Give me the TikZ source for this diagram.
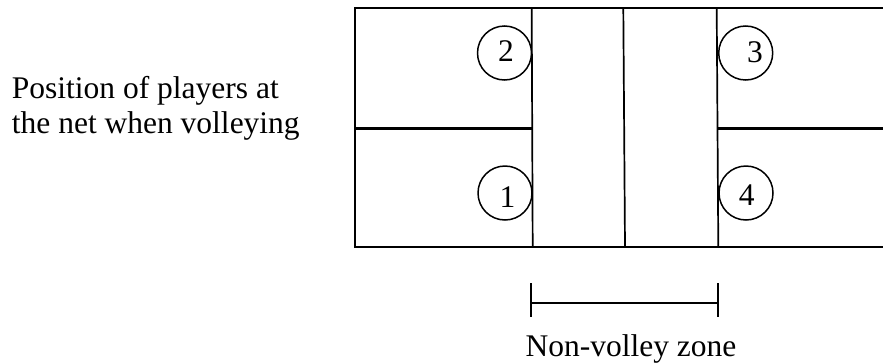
\documentclass[tikz,border=0pt]{standalone}
\usepackage{fontspec}
\setmainfont{Liberation Serif}
\begin{document}
\begin{tikzpicture}[x=1pt, y=-1pt,
  courtline/.style={line width=2.6pt},
  netline/.style={line width=1.7pt},
  barline/.style={line width=1.8pt},
  player/.style={circle, draw, line width=1.5pt, minimum size=54pt, inner sep=0pt},
  digit/.style={inner sep=0pt, font=\fontsize{31.5}{35}\selectfont},
  caption/.style={inner sep=0pt, font=\fontsize{31.5}{35}\selectfont}]
\useasboundingbox (0,0) rectangle (883,362);

% court corners and line ends
\coordinate (tl) at (355,8);
\coordinate (bl) at (355,247);
\coordinate (tr) at (883,8);
\coordinate (br) at (883,247);
\coordinate (k1t) at (531.7,8);
\coordinate (k1b) at (532.7,247);
\coordinate (nt) at (623.3,8);
\coordinate (nb) at (625,247);
\coordinate (k2t) at (716.7,8);
\coordinate (k2b) at (718.3,247);
\coordinate (ml) at (355,128.3);
\coordinate (mlk) at (532.2,128.3);
\coordinate (mrk) at (717.5,128.3);
\coordinate (mr) at (883,128.3);

% outer court lines (right end runs off the page)
\draw[courtline] (tr) -- (tl) -- (bl) -- (br);
% centre service lines
\draw[courtline] (ml) -- (mlk);
\draw[courtline] (mrk) -- (mr);
% non-volley lines and net
\draw[netline] (k1t) -- (k1b);
\draw[netline] (nt) -- (nb);
\draw[netline] (k2t) -- (k2b);

% players
\node[player] (p2) at (504.5,53) {};
\node[player] (p3) at (745.7,53) {};
\node[player] (p1) at (505,193) {};
\node[player] (p4) at (746,193) {};
\node[digit, anchor=base] (d2) at (506,61) {2};
\node[digit, anchor=base] (d3) at (755,62.3) {3};
\node[digit, anchor=base] (d1) at (507.5,207.3) {1};
\node[digit, anchor=base] (d4) at (746.8,205.6) {4};

% non-volley zone dimension bar
\coordinate (zl) at (531,302.7);
\coordinate (zr) at (718.3,302.7);
\coordinate (zlt) at (531,283.3);
\coordinate (zlb) at (531,316.7);
\coordinate (zrt) at (718.3,283.3);
\coordinate (zrb) at (718.3,316.7);
\draw[barline] (zlt) -- (zlb);
\draw[barline] (zrt) -- (zrb);
\draw[barline] (zl) -- (zr);
\node[caption, anchor=base] (zone) at (631,356.7) {Non-volley zone};

% side caption
\node[caption, anchor=base west] (cap1) at (11.7,98.3) {Position of players at};
\node[caption, anchor=base west] (cap2) at (11.7,133.3) {the net when volleying};
\end{tikzpicture}
\end{document}
